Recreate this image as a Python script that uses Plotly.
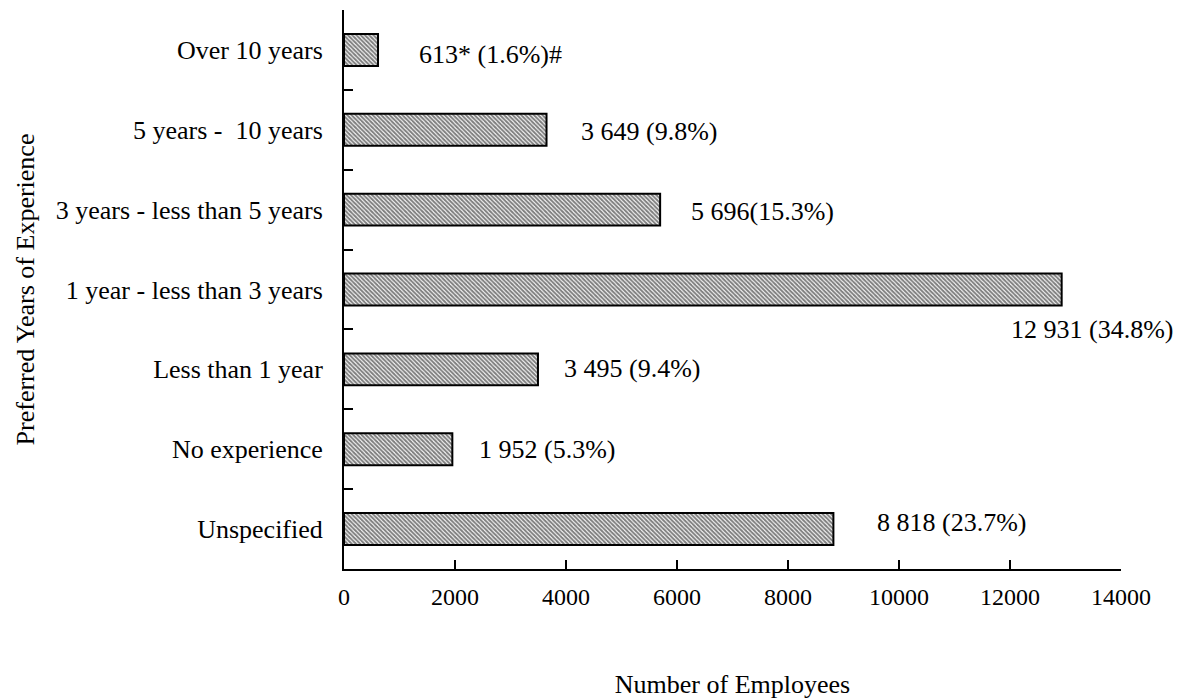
import plotly.graph_objects as go

# Data (top to bottom as shown)
categories = ["Over 10 years", "5 years -  10 years", "3 years - less than 5 years",
              "1 year - less than 3 years", "Less than 1 year", "No experience", "Unspecified"]
employees = [613, 3649, 5696, 12931, 3495, 1952, 8818]
value_labels = ["613* (1.6%)#", "3 649 (9.8%)", "5 696(15.3%)", "12 931 (34.8%)",
                "3 495 (9.4%)", "1 952 (5.3%)", "8 818 (23.7%)"]
x_ticks = [0, 2000, 4000, 6000, 8000, 10000, 12000, 14000]

# label offsets in pixels (layout only)
label_xshift = [39, 32, 29, -53, 24, 25, 42]
label_yshift = [-5, -2, -2, -40, 1, 0, 7]

FONT = "Liberation Serif, Times New Roman, serif"

fig = go.Figure()
fig.add_trace(go.Bar(
    x=employees, y=categories, orientation="h", width=0.4,
    marker=dict(color="white",
                line=dict(color="black", width=2),
                pattern=dict(shape="\\", fgcolor="black", bgcolor="white",
                             size=3, solidity=0.65)),
    showlegend=False, hoverinfo="x+y",
))

for c, v, t, dx, dy in zip(categories, employees, value_labels, label_xshift, label_yshift):
    fig.add_annotation(x=v, y=c, text=t, showarrow=False, xanchor="left", yanchor="middle",
                       xshift=dx, yshift=dy, font=dict(family=FONT, size=26, color="black"))

# page has an 8px body margin, so the figure is 8px smaller than the window
fig.update_layout(
    width=1176, height=691,
    margin=dict(l=336, r=63, t=2, b=130),
    paper_bgcolor="white", plot_bgcolor="white",
    font=dict(family=FONT, size=26, color="black"),
    bargap=0.6,
)
fig.update_xaxes(
    range=[0, 14000], tickvals=x_ticks, ticktext=[str(v) for v in x_ticks],
    showline=True, linecolor="black", linewidth=2,
    ticks="inside", ticklen=9, tickwidth=2, tickcolor="black",
    showgrid=False, zeroline=False, ticklabelstandoff=5,
    tickfont=dict(family=FONT, size=24),
    title=dict(text="Number of Employees", font=dict(family=FONT, size=26), standoff=67),
    automargin=False,
)
fig.update_yaxes(
    categoryorder="array", categoryarray=categories, autorange="reversed",
    showline=True, linecolor="black", linewidth=2,
    ticks="inside", ticklen=9, tickwidth=2, tickcolor="black", tickson="boundaries",
    showgrid=False, zeroline=False, ticklabelstandoff=14,
    tickfont=dict(family=FONT, size=26),
    title=dict(text="Preferred Years of Experience", font=dict(family=FONT, size=26), standoff=14),
    automargin=False,
)

fig.write_html("out.html")
